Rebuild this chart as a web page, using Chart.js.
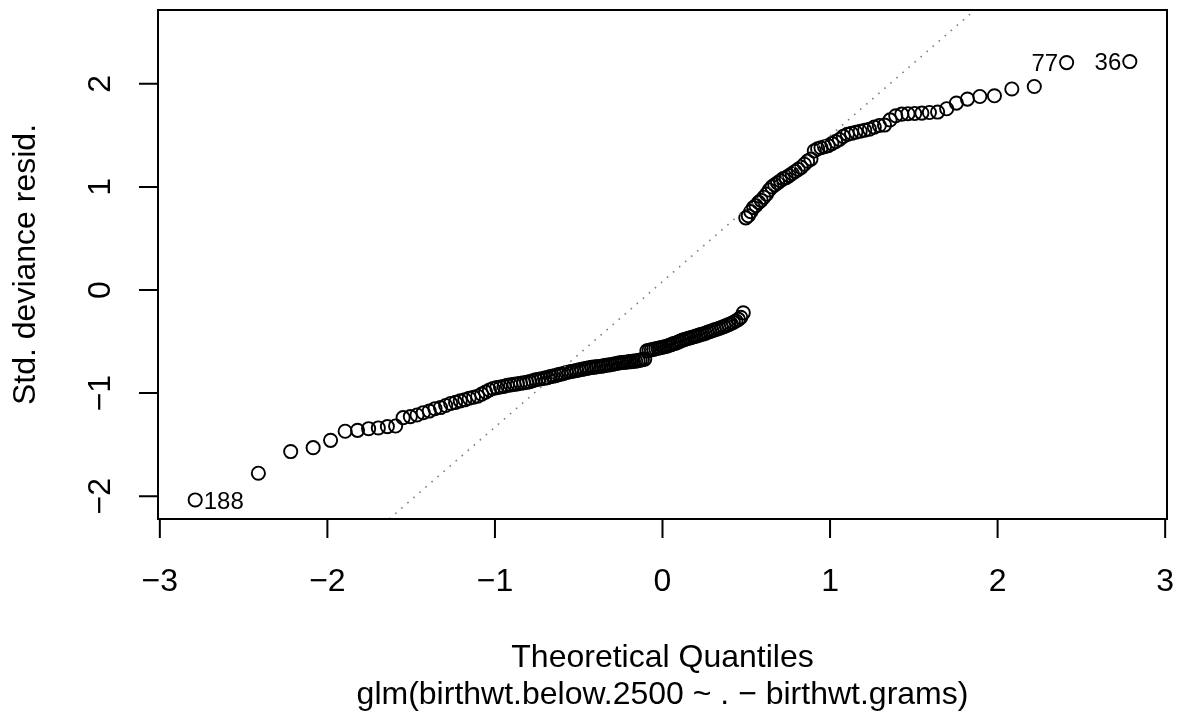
<!DOCTYPE html>
<html>
<head>
<meta charset="utf-8">
<script src="https://cdn.jsdelivr.net/npm/chart.js@4/dist/chart.umd.min.js"></script>
<style>
html,body{margin:0;padding:0;background:#fff;}
#c{display:block;}
</style>
</head>
<body>
<canvas id="c" width="1183" height="715"></canvas>
<script>
// Theoretical quantiles (x) read for each of the 189 sorted residuals
const theoQuantiles = [
-2.789,-2.412,-2.219,-2.085,-1.981,-1.894,-1.820,-1.754,-1.696,-1.642,
-1.593,-1.548,-1.505,-1.465,-1.428,-1.392,-1.358,-1.325,-1.294,-1.264,
-1.235,-1.207,-1.180,-1.154,-1.128,-1.103,-1.079,-1.056,-1.033,-1.011,
-0.989,-0.967,-0.946,-0.926,-0.906,-0.886,-0.866,-0.847,-0.828,-0.810,
-0.792,-0.774,-0.756,-0.738,-0.721,-0.704,-0.687,-0.670,-0.654,-0.637,
-0.621,-0.605,-0.589,-0.574,-0.558,-0.543,-0.527,-0.512,-0.497,-0.482,
-0.467,-0.453,-0.438,-0.423,-0.409,-0.395,-0.380,-0.366,-0.352,-0.338,
-0.324,-0.310,-0.296,-0.282,-0.268,-0.255,-0.241,-0.227,-0.214,-0.200,
-0.187,-0.173,-0.160,-0.146,-0.133,-0.120,-0.106,-0.093,-0.080,-0.066,
-0.053,-0.040,-0.027,-0.013,0.000,
0.013,0.027,0.040,0.053,0.066,0.080,0.093,0.106,0.120,0.133,
0.146,0.160,0.173,0.187,0.200,0.214,0.227,0.241,0.255,0.268,
0.282,0.296,0.310,0.324,0.338,0.352,0.366,0.380,0.395,0.409,
0.423,0.438,0.453,0.467,0.482,0.497,0.512,0.527,0.543,0.558,
0.574,0.589,0.605,0.621,0.637,0.654,0.670,0.687,0.704,0.721,
0.738,0.756,0.774,0.792,0.810,0.828,0.847,0.866,0.886,0.906,
0.926,0.946,0.967,0.989,1.011,1.033,1.056,1.079,1.103,1.128,
1.154,1.180,1.207,1.235,1.264,1.294,1.325,1.358,1.392,1.428,
1.465,1.505,1.548,1.593,1.642,1.696,1.754,1.820,1.894,1.981,
2.085,2.219,2.412,2.789
];
// Standardized deviance residuals (y), sorted
const stdDevResid = [
-2.036,-1.777,-1.567,-1.529,-1.458,-1.370,-1.361,-1.345,-1.338,-1.325,
-1.319,-1.238,-1.228,-1.212,-1.190,-1.174,-1.151,-1.140,-1.120,-1.100,
-1.090,-1.075,-1.065,-1.050,-1.040,-1.030,-1.010,-0.990,-0.970,-0.955,
-0.947,-0.940,-0.935,-0.925,-0.920,-0.915,-0.910,-0.905,-0.900,-0.895,
-0.889,-0.880,-0.870,-0.865,-0.860,-0.855,-0.850,-0.840,-0.835,-0.830,
-0.820,-0.815,-0.810,-0.800,-0.795,-0.790,-0.785,-0.780,-0.775,-0.770,
-0.765,-0.760,-0.755,-0.750,-0.748,-0.745,-0.742,-0.740,-0.735,-0.730,
-0.728,-0.725,-0.720,-0.715,-0.710,-0.706,-0.703,-0.700,-0.700,-0.695,
-0.695,-0.690,-0.690,-0.685,-0.680,-0.675,-0.670,-0.590,-0.585,-0.580,
-0.575,-0.570,-0.565,-0.560,-0.555,-0.550,-0.545,-0.535,-0.530,-0.520,
-0.515,-0.505,-0.495,-0.486,-0.480,-0.473,-0.466,-0.460,-0.453,-0.447,
-0.440,-0.433,-0.427,-0.420,-0.410,-0.403,-0.395,-0.387,-0.380,-0.372,
-0.363,-0.355,-0.345,-0.335,-0.325,-0.315,-0.300,-0.285,-0.265,-0.221,
0.700,0.720,0.760,0.800,0.820,0.850,0.870,0.900,0.930,0.970,
1.000,1.020,1.040,1.060,1.080,1.090,1.110,1.130,1.150,1.170,
1.190,1.220,1.250,1.270,1.350,1.370,1.380,1.390,1.400,1.420,
1.440,1.460,1.490,1.510,1.520,1.530,1.540,1.550,1.560,1.580,
1.596,1.600,1.650,1.690,1.706,1.710,1.712,1.716,1.722,1.726,
1.758,1.813,1.852,1.877,1.884,1.950,1.974,2.206,2.216
];
// Labelled observations (index into sorted arrays) and their ids
const labelIndex = [0, 187, 188];
const labelText = ["188", "77", "36"];
// Reference (qq) line endpoints
const qqLineX = [-1.631, 1.864];
const qqLineY = [-2.221, 2.716];
// Axis ticks
const xTickValues = [-3, -2, -1, 0, 1, 2, 3];
const xTickLabels = ["\u22123", "\u22122", "\u22121", "0", "1", "2", "3"];
const yTickValues = [-2, -1, 0, 1, 2];
const yTickLabels = ["\u22122", "\u22121", "0", "1", "2"];
// Axis ranges
const xRange = [-3.011, 3.011];
const yRange = [-2.221, 2.716];
// Texts
const xTitle = "Theoretical Quantiles";
const yTitle = "Std. deviance resid.";
const subTitle = "glm(birthwt.below.2500 ~ . \u2212 birthwt.grams)";

const FONT = '"Liberation Sans", Arial, Helvetica, sans-serif';

const points = theoQuantiles.map((x, i) => ({x: x, y: stdDevResid[i]}));
const qqLine = qqLineX.map((x, i) => ({x: x, y: qqLineY[i]}));

const rAxesPlugin = {
  id: 'rAxes',
  afterDraw(chart) {
    const ctx = chart.ctx;
    const a = chart.chartArea;
    const xs = chart.scales.x, ys = chart.scales.y;
    ctx.save();
    ctx.strokeStyle = '#000';
    ctx.fillStyle = '#000';
    ctx.lineWidth = 2;
    // box
    ctx.strokeRect(a.left, a.top, a.right - a.left, a.bottom - a.top);
    // x axis
    const tl = 19;
    ctx.beginPath();
    ctx.moveTo(xs.getPixelForValue(xTickValues[0]), a.bottom);
    ctx.lineTo(xs.getPixelForValue(xTickValues[xTickValues.length - 1]), a.bottom);
    xTickValues.forEach(v => {
      const px = xs.getPixelForValue(v);
      ctx.moveTo(px, a.bottom);
      ctx.lineTo(px, a.bottom + tl);
    });
    // y axis
    ctx.moveTo(a.left, ys.getPixelForValue(yTickValues[0]));
    ctx.lineTo(a.left, ys.getPixelForValue(yTickValues[yTickValues.length - 1]));
    yTickValues.forEach(v => {
      const py = ys.getPixelForValue(v);
      ctx.moveTo(a.left, py);
      ctx.lineTo(a.left - tl, py);
    });
    ctx.stroke();

    // tick labels
    ctx.font = '32px ' + FONT;
    ctx.textAlign = 'center';
    ctx.textBaseline = 'alphabetic';
    xTickValues.forEach((v, i) => {
      ctx.fillText(xTickLabels[i], xs.getPixelForValue(v), 591);
    });
    yTickValues.forEach((v, i) => {
      const py = ys.getPixelForValue(v);
      ctx.save();
      ctx.translate(110, py);
      ctx.rotate(-Math.PI / 2);
      ctx.fillText(yTickLabels[i], 0, 0);
      ctx.restore();
    });
    // titles
    const cx = (a.left + a.right) / 2;
    const cy = (a.top + a.bottom) / 2;
    ctx.fillText(xTitle, cx, 667);
    ctx.fillText(subTitle, cx, 704);
    ctx.save();
    ctx.translate(35, cy);
    ctx.rotate(-Math.PI / 2);
    ctx.fillText(yTitle, 0, 0);
    ctx.restore();

    // point id labels
    ctx.font = '24px ' + FONT;
    const mid = (xRange[0] + xRange[1]) / 2;
    labelIndex.forEach((idx, k) => {
      const px = xs.getPixelForValue(theoQuantiles[idx]);
      const py = ys.getPixelForValue(stdDevResid[idx]);
      if (theoQuantiles[idx] > mid) {
        ctx.textAlign = 'right';
        ctx.fillText(labelText[k], px - 8.5, py + 8.6);
      } else {
        ctx.textAlign = 'left';
        ctx.fillText(labelText[k], px + 8.5, py + 8.6);
      }
    });
    ctx.restore();
  }
};

new Chart(document.getElementById('c'), {
  type: 'scatter',
  data: {
    datasets: [
      {
        type: 'line',
        data: qqLine,
        borderColor: '#7f7f7f',
        borderWidth: 1.6,
        borderDash: [1.6, 6.4],
        pointRadius: 0,
        fill: false,
        order: 0
      },
      {
        type: 'scatter',
        data: points,
        pointStyle: 'circle',
        pointRadius: 6.6,
        pointBorderWidth: 1.9,
        borderColor: '#000',
        backgroundColor: 'rgba(0,0,0,0)',
        pointBackgroundColor: 'rgba(0,0,0,0)',
        pointBorderColor: '#000',
        order: 1
      }
    ]
  },
  options: {
    responsive: false,
    devicePixelRatio: 1,
    animation: false,
    events: [],
    layout: { padding: { left: 158, top: 10, right: 16, bottom: 196 } },
    plugins: { legend: { display: false }, tooltip: { enabled: false } },
    scales: {
      x: { type: 'linear', display: false, min: xRange[0], max: xRange[1] },
      y: { type: 'linear', display: false, min: yRange[0], max: yRange[1] }
    }
  },
  plugins: [rAxesPlugin]
});
</script>
</body>
</html>
